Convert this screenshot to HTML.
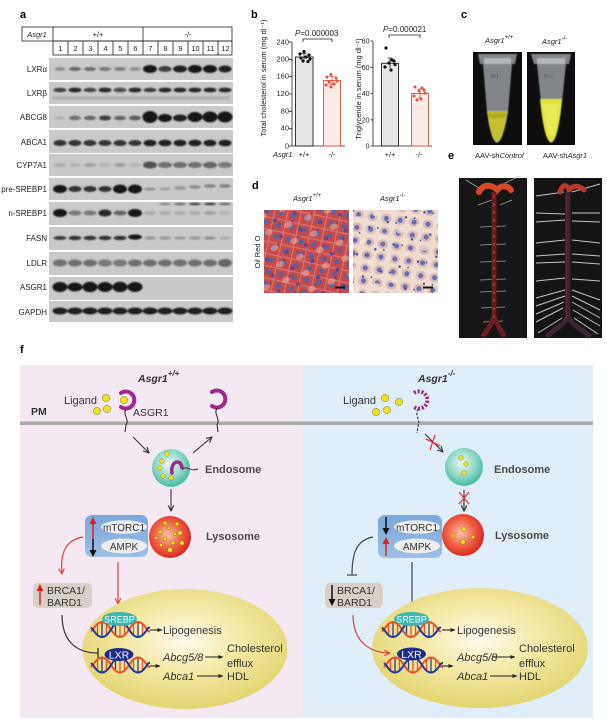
<!DOCTYPE html>
<html><head><meta charset="utf-8"><style>html,body{margin:0;padding:0;background:#fff;}svg{display:block;}</style></head><body>
<svg xmlns="http://www.w3.org/2000/svg" width="607" height="725" viewBox="0 0 607 725" font-family="'Liberation Sans', Arial, sans-serif">
<defs>
 <filter id="bl" x="-50%" y="-150%" width="200%" height="400%"><feGaussianBlur stdDeviation="0.9"/></filter>
 <filter id="bl2" x="-20%" y="-20%" width="140%" height="140%"><feGaussianBlur stdDeviation="0.6"/></filter>
 <radialGradient id="endo" cx="0.45" cy="0.4" r="0.6"><stop offset="0" stop-color="#eef9f4"/><stop offset="0.6" stop-color="#8fd8c6"/><stop offset="1" stop-color="#45b9a2"/></radialGradient>
 <radialGradient id="lyso" cx="0.45" cy="0.45" r="0.6"><stop offset="0" stop-color="#f9c4a8"/><stop offset="0.5" stop-color="#f06848"/><stop offset="1" stop-color="#d81c1c"/></radialGradient>
 <radialGradient id="nuc" cx="0.5" cy="0.42" r="0.6"><stop offset="0" stop-color="#fefcf0"/><stop offset="0.45" stop-color="#f4eaa8"/><stop offset="1" stop-color="#e2d36c"/></radialGradient>
 <linearGradient id="mbox" x1="0" y1="0" x2="0" y2="1"><stop offset="0" stop-color="#7aa6da"/><stop offset="1" stop-color="#9cc0e6"/></linearGradient>
 <marker id="ak" viewBox="0 0 10 10" refX="9" refY="5" markerWidth="7" markerHeight="7" markerUnits="userSpaceOnUse" orient="auto"><path d="M1,1 L9,5 L1,9" fill="none" stroke="#333" stroke-width="1.6"/></marker>
 <marker id="ar" viewBox="0 0 10 10" refX="9" refY="5" markerWidth="7" markerHeight="7" markerUnits="userSpaceOnUse" orient="auto"><path d="M1,1 L9,5 L1,9" fill="none" stroke="#e0403c" stroke-width="1.6"/></marker>
 <marker id="af" viewBox="0 0 10 10" refX="9" refY="5" markerWidth="5" markerHeight="5" markerUnits="userSpaceOnUse" orient="auto"><path d="M0,1 L10,5 L0,9z" fill="#222"/></marker>
 <g id="dna">
  <g stroke-width="1.3">
   <line x1="4.5" y1="-5.3" x2="4.5" y2="5.3" stroke="#e85030"/><line x1="9" y1="-7.5" x2="9" y2="7.5" stroke="#2a3a90"/><line x1="13.5" y1="-5.3" x2="13.5" y2="5.3" stroke="#e85030"/>
   <line x1="22.5" y1="-5.3" x2="22.5" y2="5.3" stroke="#2a3a90"/><line x1="27" y1="-7.5" x2="27" y2="7.5" stroke="#e85030"/><line x1="31.5" y1="-5.3" x2="31.5" y2="5.3" stroke="#e85030"/>
   <line x1="40.5" y1="-5.3" x2="40.5" y2="5.3" stroke="#e85030"/><line x1="45" y1="-7.5" x2="45" y2="7.5" stroke="#2a3a90"/><line x1="49.5" y1="-5.3" x2="49.5" y2="5.3" stroke="#e85030"/>
  </g>
  <path d="M-2,2 Q0,0 0,0 Q9,-15 18,0 T36,0 T54,0 Q55,2 57,2" fill="none" stroke="#e8502c" stroke-width="2"/>
  <path d="M-2,-2 Q0,0 0,0 Q9,15 18,0 T36,0 T54,0 Q55,-2 57,-2" fill="none" stroke="#243a94" stroke-width="2"/>
 </g>
 <pattern id="orA" width="13" height="12" patternUnits="userSpaceOnUse" patternTransform="rotate(12)">
  <rect width="13" height="12" fill="#c64a4a"/>
  <path d="M0,0.6H13M0.6,0V12" stroke="#e8a8a0" stroke-width="1.2" opacity=".45"/>
  <circle cx="7" cy="6" r="2.5" fill="#5562aa"/>
 </pattern>
 <pattern id="orA2" width="21" height="17" patternUnits="userSpaceOnUse" patternTransform="rotate(-20)">
  <ellipse cx="5" cy="4" rx="4" ry="3" fill="#f0c8c0" opacity=".45"/>
  <circle cx="15" cy="12" r="2" fill="#3d4a98" opacity=".8"/>
  <circle cx="10" cy="1.5" r="1" fill="#3d4a98"/>
 </pattern>
 <pattern id="orB" width="14" height="13" patternUnits="userSpaceOnUse" patternTransform="rotate(8)">
  <rect width="14" height="13" fill="#eedccf"/>
  <ellipse cx="7" cy="6.5" rx="5.3" ry="4.8" fill="#dcb4b4" opacity=".85"/>
  <circle cx="7" cy="6.5" r="2.5" fill="#6070b2"/>
 </pattern>
 <pattern id="orB2" width="19" height="23" patternUnits="userSpaceOnUse" patternTransform="rotate(-15)">
  <ellipse cx="4" cy="5" rx="3.5" ry="2.5" fill="#f4e6da" opacity=".7"/>
  <circle cx="13" cy="16" r="1.2" fill="#3d4a98"/>
  <circle cx="2" cy="19" r="0.9" fill="#3d4a98"/>
 </pattern>
</defs>

<!-- ============ PANEL A ============ -->
<text x="20" y="18" font-size="11" font-weight="bold">a</text>
<g fill="none" stroke="#222" stroke-width="0.8">
 <rect x="22" y="27" width="210" height="14"/>
 <rect x="53" y="41" width="179" height="14"/>
 <path d="M53,27V41 M143,27V55 M68,41V55 M83,41V55 M98,41V55 M113,41V55 M128,41V55 M158,41V55 M173,41V55 M188,41V55 M203,41V55 M218,41V55"/>
</g>
<g font-size="7.5" fill="#222" text-anchor="middle">
 <text x="37" y="37" font-style="italic">Asgr1</text>
 <text x="98" y="37">+/+</text>
 <text x="188" y="37">-/-</text>
 <text x="60.5" y="51">1</text><text x="75.5" y="51">2</text><text x="90.5" y="51">3</text><text x="105.5" y="51">4</text><text x="120.5" y="51">5</text><text x="135.5" y="51">6</text>
 <text x="150.5" y="51">7</text><text x="165.5" y="51">8</text><text x="180.5" y="51">9</text><text x="195.5" y="51">10</text><text x="210.5" y="51">11</text><text x="225.5" y="51">12</text>
</g>
<g fill="#c9c9c9">
 <rect x="49" y="58" width="184" height="22"/>
 <rect x="49" y="82" width="184" height="22"/>
 <rect x="49" y="106" width="184" height="22"/>
 <rect x="49" y="130" width="184" height="23"/>
 <rect x="49" y="154" width="184" height="22"/>
 <rect x="49" y="178" width="184" height="22"/>
 <rect x="49" y="202" width="184" height="23"/>
 <rect x="49" y="227" width="184" height="23"/>
 <rect x="49" y="252" width="184" height="23"/>
 <rect x="49" y="277" width="184" height="23"/>
 <rect x="49" y="301" width="184" height="21"/>
</g>
<g font-size="8" fill="#222" text-anchor="end">
 <text x="47" y="72">LXRα</text>
 <text x="47" y="96">LXRβ</text>
 <text x="47" y="120">ABCG8</text>
 <text x="47" y="145">ABCA1</text>
 <text x="47" y="168">CYP7A1</text>
 <text x="47" y="192">pre-SREBP1</text>
 <text x="47" y="216">n-SREBP1</text>
 <text x="47" y="241">FASN</text>
 <text x="47" y="266">LDLR</text>
 <text x="47" y="290">ASGR1</text>
 <text x="47" y="315">GAPDH</text>
</g>
<g fill="#151515" filter="url(#bl)">
 <ellipse cx="60" cy="69" rx="5.5" ry="1.8" opacity=".35"/><ellipse cx="75" cy="69" rx="6" ry="2" opacity=".55"/><ellipse cx="90" cy="69" rx="6" ry="2" opacity=".5"/><ellipse cx="105" cy="69" rx="6" ry="2" opacity=".45"/><ellipse cx="120" cy="69" rx="6" ry="2" opacity=".4"/><ellipse cx="135" cy="69" rx="5.5" ry="1.8" opacity=".35"/>
 <ellipse cx="150" cy="69" rx="7" ry="4" opacity="1"/><ellipse cx="165" cy="69" rx="6.5" ry="3" opacity=".8"/><ellipse cx="180" cy="69" rx="7" ry="3.5" opacity=".95"/><ellipse cx="195" cy="69" rx="7" ry="4" opacity="1"/><ellipse cx="210" cy="69" rx="7" ry="4" opacity="1"/><ellipse cx="225" cy="69" rx="6.5" ry="3.5" opacity=".95"/>
 <ellipse cx="60" cy="90" rx="6.5" ry="2.2" opacity=".75"/><ellipse cx="75" cy="90" rx="6.5" ry="2.4" opacity=".9"/><ellipse cx="90" cy="90" rx="6.5" ry="2.2" opacity=".7"/><ellipse cx="105" cy="90" rx="6.5" ry="2.4" opacity=".9"/><ellipse cx="120" cy="90" rx="6.5" ry="2.2" opacity=".7"/><ellipse cx="135" cy="90" rx="6.5" ry="2.4" opacity=".9"/>
 <ellipse cx="150" cy="90" rx="6.5" ry="2.2" opacity=".8"/><ellipse cx="165" cy="90" rx="6.5" ry="2.4" opacity=".9"/><ellipse cx="180" cy="90" rx="6.5" ry="2.4" opacity=".9"/><ellipse cx="195" cy="90" rx="6.5" ry="2.4" opacity=".9"/><ellipse cx="210" cy="90" rx="6.5" ry="2.4" opacity=".9"/><ellipse cx="225" cy="90" rx="6.5" ry="2.4" opacity=".9"/>
 <rect x="52" y="96.5" width="178" height="3" opacity=".12"/>
 <ellipse cx="60" cy="118" rx="5" ry="1.5" opacity=".15"/><ellipse cx="75" cy="118" rx="6" ry="2.2" opacity=".5"/><ellipse cx="90" cy="118" rx="6" ry="2.2" opacity=".55"/><ellipse cx="105" cy="118" rx="6" ry="2.5" opacity=".75"/><ellipse cx="120" cy="118" rx="6" ry="2.2" opacity=".55"/><ellipse cx="135" cy="118" rx="6" ry="2.4" opacity=".6"/>
 <ellipse cx="150" cy="117" rx="7.5" ry="6" opacity="1"/><ellipse cx="165" cy="118" rx="7" ry="4" opacity="1"/><ellipse cx="180" cy="118" rx="7" ry="3.5" opacity=".95"/><ellipse cx="195" cy="117" rx="7.5" ry="5" opacity="1"/><ellipse cx="210" cy="117" rx="7.5" ry="5.5" opacity="1"/><ellipse cx="225" cy="117" rx="7.5" ry="5.5" opacity="1"/>
 <ellipse cx="60" cy="143" rx="6.5" ry="3" opacity=".85"/><ellipse cx="75" cy="143" rx="6.5" ry="3" opacity=".85"/><ellipse cx="90" cy="143" rx="6.5" ry="3" opacity=".85"/><ellipse cx="105" cy="143" rx="6.5" ry="3" opacity=".85"/><ellipse cx="120" cy="143" rx="6.5" ry="3" opacity=".85"/><ellipse cx="135" cy="143" rx="6.5" ry="3" opacity=".85"/>
 <ellipse cx="150" cy="143" rx="6.5" ry="3.3" opacity=".95"/><ellipse cx="165" cy="143" rx="6.5" ry="3.3" opacity=".95"/><ellipse cx="180" cy="143" rx="6.5" ry="3.3" opacity=".95"/><ellipse cx="195" cy="143" rx="6.5" ry="3.3" opacity=".95"/><ellipse cx="210" cy="143" rx="6.5" ry="3.3" opacity=".95"/><ellipse cx="225" cy="143" rx="6.5" ry="3.3" opacity=".95"/>
 <ellipse cx="60" cy="165" rx="6" ry="2" opacity=".15"/><ellipse cx="75" cy="165" rx="6" ry="2" opacity=".1"/><ellipse cx="90" cy="165" rx="6" ry="2" opacity=".2"/><ellipse cx="105" cy="165" rx="6" ry="2" opacity=".1"/><ellipse cx="120" cy="165" rx="6" ry="2" opacity=".2"/><ellipse cx="135" cy="165" rx="6" ry="2" opacity=".1"/>
 <ellipse cx="150" cy="165" rx="7" ry="3.5" opacity=".65"/><ellipse cx="165" cy="165" rx="7" ry="3" opacity=".5"/><ellipse cx="180" cy="165" rx="7" ry="3" opacity=".5"/><ellipse cx="195" cy="165" rx="7" ry="3" opacity=".5"/><ellipse cx="210" cy="165" rx="7" ry="3.2" opacity=".55"/><ellipse cx="225" cy="165" rx="7" ry="3" opacity=".45"/>
 <ellipse cx="60" cy="189" rx="7" ry="4" opacity="1"/><ellipse cx="75" cy="189" rx="6.5" ry="3" opacity=".85"/><ellipse cx="90" cy="189" rx="6.5" ry="3" opacity=".85"/><ellipse cx="105" cy="189" rx="6.5" ry="3" opacity=".85"/><ellipse cx="120" cy="189" rx="7" ry="4.5" opacity="1"/><ellipse cx="135" cy="189" rx="7" ry="4.5" opacity="1"/>
 <ellipse cx="150" cy="189" rx="6" ry="1.6" opacity=".25"/><ellipse cx="165" cy="189" rx="6" ry="1.6" opacity=".2"/><ellipse cx="180" cy="188" rx="6" ry="1.8" opacity=".3"/><ellipse cx="195" cy="187" rx="6" ry="1.8" opacity=".35"/><ellipse cx="210" cy="186" rx="6" ry="1.8" opacity=".4"/><ellipse cx="225" cy="186" rx="6" ry="1.8" opacity=".4"/>
 <ellipse cx="60" cy="213" rx="7" ry="4" opacity="1"/><ellipse cx="75" cy="213" rx="6.5" ry="2.5" opacity=".45"/><ellipse cx="90" cy="213" rx="6.5" ry="2.5" opacity=".45"/><ellipse cx="105" cy="213" rx="6.5" ry="3.5" opacity=".9"/><ellipse cx="120" cy="213" rx="6.5" ry="2.5" opacity=".55"/><ellipse cx="135" cy="213" rx="7" ry="4" opacity="1"/>
 <ellipse cx="150" cy="213" rx="6" ry="2" opacity=".15"/><ellipse cx="165" cy="213" rx="6" ry="2" opacity=".15"/><ellipse cx="180" cy="213" rx="6" ry="2" opacity=".15"/><ellipse cx="195" cy="213" rx="6" ry="2" opacity=".15"/><ellipse cx="210" cy="213" rx="6" ry="2" opacity=".2"/><ellipse cx="225" cy="213" rx="6" ry="2" opacity=".1"/>
 <ellipse cx="165" cy="204" rx="6" ry="1.2" opacity=".35"/><ellipse cx="180" cy="204" rx="6" ry="1.2" opacity=".5"/><ellipse cx="195" cy="204" rx="6" ry="1.3" opacity=".7"/><ellipse cx="210" cy="204" rx="6" ry="1.3" opacity=".75"/><ellipse cx="225" cy="204" rx="6" ry="1.2" opacity=".5"/>
 <ellipse cx="60" cy="238" rx="6.5" ry="2" opacity=".8"/><ellipse cx="75" cy="238" rx="6.5" ry="2.2" opacity=".85"/><ellipse cx="90" cy="238" rx="6.5" ry="2.2" opacity=".85"/><ellipse cx="105" cy="238" rx="6.5" ry="2.2" opacity=".85"/><ellipse cx="120" cy="238" rx="6.5" ry="2.2" opacity=".85"/><ellipse cx="135" cy="237" rx="7" ry="2.6" opacity="1"/>
 <ellipse cx="150" cy="238" rx="6" ry="1.5" opacity=".3"/><ellipse cx="165" cy="238" rx="6" ry="1.5" opacity=".3"/><ellipse cx="180" cy="238" rx="6" ry="1.5" opacity=".25"/><ellipse cx="195" cy="238" rx="6" ry="1.5" opacity=".3"/><ellipse cx="210" cy="238" rx="6" ry="1.5" opacity=".35"/><ellipse cx="225" cy="238" rx="6" ry="1.5" opacity=".15"/>
 <ellipse cx="60" cy="263" rx="7" ry="3.5" opacity=".5"/><ellipse cx="75" cy="263" rx="7" ry="3.5" opacity=".5"/><ellipse cx="90" cy="263" rx="7" ry="3.5" opacity=".5"/><ellipse cx="105" cy="263" rx="7" ry="3.5" opacity=".45"/><ellipse cx="120" cy="263" rx="7" ry="3.5" opacity=".45"/><ellipse cx="135" cy="263" rx="7" ry="3.5" opacity=".5"/>
 <ellipse cx="150" cy="263" rx="7" ry="3.5" opacity=".5"/><ellipse cx="165" cy="263" rx="7" ry="3.5" opacity=".5"/><ellipse cx="180" cy="263" rx="7" ry="3.5" opacity=".5"/><ellipse cx="195" cy="263" rx="7" ry="3.5" opacity=".5"/><ellipse cx="210" cy="263" rx="7" ry="3.5" opacity=".5"/><ellipse cx="225" cy="263" rx="7" ry="4" opacity=".55"/>
 <ellipse cx="60" cy="287" rx="7.5" ry="5" opacity="1"/><ellipse cx="75" cy="287" rx="7.5" ry="4.5" opacity="1"/><ellipse cx="90" cy="287" rx="7.5" ry="5.2" opacity="1"/><ellipse cx="105" cy="287" rx="7.5" ry="5" opacity="1"/><ellipse cx="120" cy="287" rx="7.5" ry="5.2" opacity="1"/><ellipse cx="135" cy="287" rx="7.5" ry="5" opacity="1"/>
 <ellipse cx="60" cy="311" rx="7.5" ry="3.5" opacity=".95"/><ellipse cx="75" cy="311" rx="7.5" ry="3.5" opacity=".95"/><ellipse cx="90" cy="311" rx="7.5" ry="3.5" opacity=".95"/><ellipse cx="105" cy="311" rx="7.5" ry="3.5" opacity=".95"/><ellipse cx="120" cy="311" rx="7.5" ry="3.5" opacity=".95"/><ellipse cx="135" cy="311" rx="7.5" ry="3.5" opacity=".95"/>
 <ellipse cx="150" cy="311" rx="7.5" ry="3.5" opacity=".95"/><ellipse cx="165" cy="311" rx="7.5" ry="3.5" opacity=".95"/><ellipse cx="180" cy="311" rx="7.5" ry="3.5" opacity=".95"/><ellipse cx="195" cy="311" rx="7.5" ry="3.5" opacity=".95"/><ellipse cx="210" cy="311" rx="7.5" ry="3.5" opacity=".95"/><ellipse cx="225" cy="311" rx="7.5" ry="3.5" opacity=".95"/>
</g>

<!-- ============ PANEL B ============ -->
<text x="251" y="18" font-size="11" font-weight="bold">b</text>
<g font-size="7.5" fill="#222">
 <text transform="translate(266,78) rotate(-90)" text-anchor="middle">Total cholesterol in serum (mg dl⁻¹)</text>
 <text transform="translate(361,89) rotate(-90)" text-anchor="middle">Triglyceride in serum (mg dl⁻¹)</text>
 <g text-anchor="end">
  <text x="289" y="44.5">240</text><text x="289" y="61.5">200</text><text x="289" y="78.5">160</text><text x="289" y="96">120</text><text x="289" y="113.5">80</text><text x="289" y="130.5">40</text><text x="289" y="148.5">0</text>
 </g>
 <g text-anchor="end" font-size="7">
  <text x="369.5" y="43.5">80</text><text x="369.5" y="69.8">60</text><text x="369.5" y="96">40</text><text x="369.5" y="122.3">20</text><text x="369.5" y="148.5">0</text>
 </g>
 <text x="273" y="157" font-style="italic">Asgr1</text>
 <g text-anchor="middle">
  <text x="304" y="157">+/+</text><text x="332" y="157">-/-</text>
  <text x="390" y="157">+/+</text><text x="419" y="157">-/-</text>
 </g>
 <text x="295" y="36" font-size="8"><tspan font-style="italic">P</tspan>=0.000003</text>
 <text x="383" y="32" font-size="8"><tspan font-style="italic">P</tspan>=0.000021</text>
</g>
<g stroke="#222" stroke-width="0.8" fill="none">
 <path d="M292,42V146H345 M289,42H292 M289,59.3H292 M289,76.7H292 M289,94H292 M289,111.3H292 M289,128.7H292 M289,146H292"/>
 <path d="M373,41V146H432 M370.5,41H373 M370.5,67.3H373 M370.5,93.5H373 M370.5,119.8H373 M370.5,146H373"/>
 <path d="M303,42V39H332V42"/>
 <path d="M389,38V35H420V38"/>
</g>
<rect x="295.5" y="57" width="17.5" height="89" fill="#e6e6e6" stroke="#222" stroke-width="0.9"/>
<rect x="323.5" y="80.5" width="17" height="65.5" fill="#fbeae6" stroke="#e4503a" stroke-width="0.9"/>
<rect x="381.5" y="63.3" width="17" height="82.7" fill="#e6e6e6" stroke="#222" stroke-width="0.9"/>
<rect x="411.5" y="93.5" width="17" height="52.5" fill="#fbeae6" stroke="#e4503a" stroke-width="0.9"/>
<g stroke-width="0.8" fill="none">
 <path d="M304,53.5V60.5 M301.5,53.5H306.5" stroke="#222"/>
 <path d="M332,76.5V84.5 M329.5,76.5H334.5 M329.5,84.5H334.5" stroke="#e4503a"/>
 <path d="M390,58V68 M387.5,58H392.5" stroke="#222"/>
 <path d="M420,89V98 M417.5,89H422.5 M417.5,98H422.5" stroke="#e4503a"/>
</g>
<g fill="#111">
 <circle cx="300" cy="54" r="1.6"/><circle cx="304" cy="51.5" r="1.6"/><circle cx="309" cy="55" r="1.6"/><circle cx="301" cy="58" r="1.6"/><circle cx="306" cy="57" r="1.6"/><circle cx="310" cy="59" r="1.6"/><circle cx="303" cy="61" r="1.6"/><circle cx="308" cy="61.5" r="1.6"/>
 <circle cx="386" cy="48" r="1.6"/><circle cx="392" cy="60" r="1.6"/><circle cx="389" cy="63" r="1.6"/><circle cx="395" cy="64.5" r="1.6"/><circle cx="385" cy="67" r="1.6"/><circle cx="391" cy="70" r="1.6"/><circle cx="394" cy="61" r="1.6"/>
</g>
<g fill="#e4503a">
 <circle cx="327" cy="77" r="1.5"/><circle cx="331" cy="74.5" r="1.5"/><circle cx="336" cy="78" r="1.5"/><circle cx="329" cy="82" r="1.5"/><circle cx="334" cy="84" r="1.5"/><circle cx="331" cy="87" r="1.5"/><circle cx="337" cy="81" r="1.5"/><circle cx="326" cy="85" r="1.5"/>
 <circle cx="415" cy="87" r="1.5"/><circle cx="422" cy="88" r="1.5"/><circle cx="419" cy="91" r="1.5"/><circle cx="425" cy="93" r="1.5"/><circle cx="414" cy="96" r="1.5"/><circle cx="421" cy="99" r="1.5"/><circle cx="417" cy="100" r="1.5"/><circle cx="424" cy="90" r="1.5"/>
</g>

<!-- ============ PANEL C ============ -->
<text x="461" y="18" font-size="11" font-weight="bold">c</text>
<g font-size="7.5" fill="#222">
 <text x="485" y="43" font-style="italic">Asgr1<tspan dy="-4" font-size="6" font-style="normal">+/+</tspan></text>
 <text x="542" y="44" font-style="italic">Asgr1<tspan dy="-4" font-size="6" font-style="normal">-/-</tspan></text>
</g>
<rect x="473" y="52" width="49" height="93" fill="#0e0e0e"/>
<rect x="527" y="52" width="48" height="93" fill="#0e0e0e"/>
<g filter="url(#bl2)">
 <path d="M478,54 L517,54 L515,64 L512,64 L508,112 Q503,142 497,143 Q491,142 487,112 L483,64 L480,64 Z" fill="#a9adb2" opacity=".75"/>
 <path d="M484,58 L511,58 L511,64 L484,64Z" fill="#d6d9dc" opacity=".6"/>
 <path d="M487,111 L508,111 Q503,141 497,142 Q491,141 487,111Z" fill="#c4c030"/>
 <path d="M488,113 L507,113 L506,118 L489,118Z" fill="#a8a420" opacity=".7"/>
 <path d="M531,54 L571,54 L569,64 L566,64 L562,102 Q558,142 551,143 Q545,142 541,102 L537,64 L534,64 Z" fill="#a9adb2" opacity=".75"/>
 <path d="M537,58 L565,58 L565,64 L537,64Z" fill="#d6d9dc" opacity=".6"/>
 <path d="M540,99 L562,99 Q558,141 551,142 Q544,141 540,99Z" fill="#e2e43a"/>
 <path d="M543,104 L559,104 Q556,136 551,137 Q546,136 543,104Z" fill="#eef06a" opacity=".6"/>
</g>
<g font-size="6" fill="#444" font-style="italic" opacity=".7"><text x="490" y="78">WT</text><text x="544" y="78">KO</text></g>

<!-- ============ PANEL D ============ -->
<text x="252" y="189" font-size="11" font-weight="bold">d</text>
<g font-size="7.5" fill="#222">
 <text x="293" y="201" font-style="italic">Asgr1<tspan dy="-4" font-size="6" font-style="normal">+/+</tspan></text>
 <text x="380" y="201" font-style="italic">Asgr1<tspan dy="-4" font-size="6" font-style="normal">-/-</tspan></text>
 <text transform="translate(260,252) rotate(-90)" text-anchor="middle">Oil Red O</text>
</g>
<rect x="264" y="210" width="85" height="83" fill="url(#orA)"/>
<rect x="264" y="210" width="85" height="83" fill="url(#orA2)"/>
<rect x="353" y="210" width="85" height="83" fill="url(#orB)"/>
<rect x="353" y="210" width="85" height="83" fill="url(#orB2)"/>
<path d="M335,287.5H345 M423,287.5H433" stroke="#111" stroke-width="2"/>

<!-- ============ PANEL E ============ -->
<text x="448" y="159" font-size="11" font-weight="bold">e</text>
<g font-size="7.5" fill="#222">
 <text x="475" y="158">AAV-sh<tspan font-style="italic">Control</tspan></text>
 <text x="543" y="158">AAV-sh<tspan font-style="italic">Asgr1</tspan></text>
</g>
<rect x="459" y="178" width="68" height="160" fill="#161616"/>
<rect x="534" y="178" width="68" height="160" fill="#141414"/>
<g stroke="#bdbdbd" stroke-width="0.8" opacity=".85">
 <path d="M466,180 L482,190 M505,183 L520,176 M478,205 L492,200 M500,205 L512,200 M480,227 L506,226 M480,245 L506,244 M480,262 L506,261 M480,280 L506,279 M480,292 L506,291 M481,308 L505,307 M483,322 L503,321"/>
</g>
<path d="M479,192 C484,182 494,186 497,190 C502,184 508,186 511,190" stroke="#d8482a" stroke-width="6" fill="none" stroke-linecap="round"/>
<path d="M494,192 L494,318 M494,316 C492,326 486,330 483,337 M494,316 C497,326 502,330 504,337" stroke="#6a1c20" stroke-width="5" fill="none"/>
<path d="M494,195 L494,318" stroke="#c03a28" stroke-width="1.5" stroke-dasharray="3 5" fill="none"/>
<g stroke="#d8d8d8" stroke-width="1" opacity=".9">
 <path d="M536,196 L564,192 M536,213 L565,214 M536,222 L565,220 M536,243 L565,240 M536,256 L565,254 M536,263 L565,262 M536,281 L565,278 M536,298 L565,290 M536,306 L565,296 M536,314 L564,302 M536,322 L563,308 M538,333 L562,318"/>
 <path d="M572,192 L600,184 M572,213 L600,213 M572,221 L600,222 M572,240 L600,243 M572,254 L600,256 M572,262 L600,264 M572,279 L600,281 M572,290 L600,300 M572,296 L600,310 M572,302 L600,318 M573,310 L600,326 M574,318 L598,334"/>
</g>
<path d="M560,192 C563,182 568,186 569,190 C574,184 580,186 584,190" stroke="#b83a2a" stroke-width="5" fill="none" stroke-linecap="round"/>
<path d="M568,192 L568,318 M568,316 C564,326 552,330 547,337 M568,316 C572,326 584,330 590,337" stroke="#3c2432" stroke-width="5" fill="none"/>
<path d="M566,195 L566,318" stroke="#8a2a2a" stroke-width="1" fill="none"/>

<!-- ============ PANEL F ============ -->
<text x="20" y="353" font-size="11" font-weight="bold">f</text>
<rect x="20" y="365" width="283" height="353" fill="#f4e9f3"/>
<rect x="303" y="365" width="290" height="353" fill="#dfeef8"/>
<rect x="20" y="421.5" width="573" height="3.5" fill="#aaaaaa"/>

<g font-size="11" fill="#333">
 <text x="31" y="415" font-weight="bold" font-size="10.5">PM</text>
 <text x="138" y="382" font-weight="bold" font-style="italic" font-size="10.5">Asgr1<tspan dy="-6" font-size="8">+/+</tspan></text>
 <text x="418" y="382" font-weight="bold" font-style="italic" font-size="10.5">Asgr1<tspan dy="-6" font-size="8">-/-</tspan></text>
 <text x="64" y="404">Ligand</text>
 <text x="133" y="416" font-size="10.5">ASGR1</text>
 <text x="343" y="404">Ligand</text>
 <g font-weight="bold" fill="#4a4a4a">
  <text x="205" y="473">Endosome</text>
  <text x="206" y="540">Lysosome</text>
  <text x="494" y="473">Endosome</text>
  <text x="495" y="539">Lysosome</text>
  <text x="181" y="703" text-anchor="middle">Nucleus</text>
  <text x="474" y="703" text-anchor="middle">Nucleus</text>
 </g>
</g>

<g fill="#f3e21a" stroke="#8a8a40" stroke-width="0.6">
 <circle cx="106" cy="398" r="3.6"/><circle cx="97" cy="411" r="3.6"/><circle cx="107" cy="409" r="3.6"/><circle cx="124" cy="400" r="3.6"/>
 <circle cx="385" cy="398" r="3.6"/><circle cx="399" cy="402" r="3.6"/><circle cx="376" cy="412" r="3.6"/><circle cx="387" cy="410" r="3.6"/>
</g>
<g fill="none" stroke="#9c2a8c" stroke-width="4" stroke-linecap="round">
 <path d="M121,393 A8.5,8.5 0 1 1 121,407"/>
 <path d="M212,392 A8.5,8.5 0 1 1 212,406"/>
 <path d="M414,393 A8.5,8.5 0 1 1 414,407" stroke-dasharray="2.2 1.6" stroke-linecap="butt"/>
</g>
<g fill="none" stroke="#222" stroke-width="1">
 <path d="M126,409 C122,415 130,419 126,425 L125,432"/>
 <path d="M217,408 C213,414 221,419 217,425 L218,432"/>
 <path d="M418,409 C414,415 421,420 418,426 L417,433" stroke-dasharray="2.5 1.5"/>
</g>

<g fill="none" stroke="#333" stroke-width="1.1">
 <path d="M133,437 L149,453" marker-end="url(#ak)"/>
 <path d="M193,453 L212,437" marker-end="url(#ak)"/>
 <path d="M171,489 L171,511" marker-end="url(#ak)"/>
 <path d="M425,434 L443,452" marker-end="url(#ak)"/>
 <path d="M464,490 L464,511" marker-end="url(#ak)"/>
</g>
<g stroke="#e8343c" stroke-width="1.3">
 <path d="M426,439 L440,446 M435,435 L430,450"/>
 <path d="M459,492 L469,504 M469,492 L459,504"/>
</g>

<circle cx="171" cy="468" r="19" fill="url(#endo)"/>
<circle cx="464" cy="467" r="19" fill="url(#endo)"/>
<g fill="#f3e21a" stroke="#8a8a40" stroke-width="0.5">
 <circle cx="167" cy="454" r="2.3"/><circle cx="162" cy="461" r="2.3"/><circle cx="160" cy="468" r="2.3"/><circle cx="163" cy="476" r="2.3"/><circle cx="171" cy="478" r="2.3"/>
 <circle cx="461" cy="458" r="2.3"/><circle cx="466" cy="464" r="2.3"/><circle cx="464" cy="473" r="2.3"/>
</g>
<path d="M172,473 C170,461 181,458 182,468" fill="none" stroke="#9c2a8c" stroke-width="3.5" stroke-linecap="round"/>
<path d="M183,469 C187,465 190,472 198,469" fill="none" stroke="#333" stroke-width="1"/>

<circle cx="170" cy="537" r="21" fill="url(#lyso)"/>
<circle cx="463" cy="535" r="21" fill="url(#lyso)"/>
<g fill="#f3e21a" stroke="#8a6a20" stroke-width="0.5">
 <circle cx="165" cy="523" r="2"/><circle cx="177" cy="524" r="2"/><circle cx="160" cy="532" r="2"/><circle cx="169" cy="528" r="1.6"/><circle cx="180" cy="533" r="2.2"/><circle cx="165" cy="539" r="2"/><circle cx="173" cy="543" r="2"/><circle cx="182" cy="543" r="2.2"/><circle cx="156" cy="538" r="1.6"/><circle cx="170" cy="550" r="2.4"/><circle cx="161" cy="545" r="1.6"/><circle cx="175" cy="534" r="1.6"/>
 <circle cx="464" cy="529" r="2.3"/><circle cx="463" cy="542" r="2.3"/><circle cx="453" cy="536" r="1.8"/><circle cx="473" cy="537" r="1.8"/>
</g>

<rect x="85" y="515" width="63" height="42" rx="7" fill="url(#mbox)"/>
<ellipse cx="124" cy="527" rx="23" ry="6.8" fill="#eeeeee"/>
<ellipse cx="124" cy="546" rx="23" ry="7.5" fill="#eeeeee"/>
<rect x="378" y="515" width="64" height="43" rx="7" fill="url(#mbox)"/>
<ellipse cx="417" cy="527" rx="23" ry="6.8" fill="#eeeeee"/>
<ellipse cx="417" cy="546" rx="23" ry="7.5" fill="#eeeeee"/>
<g font-size="10" fill="#333" text-anchor="middle">
 <text x="124" y="531">mTORC1</text><text x="124" y="550">AMPK</text>
 <text x="417" y="531">mTORC1</text><text x="417" y="550">AMPK</text>
</g>
<path d="M93,539 V523" stroke="#e02020" stroke-width="1.5"/><path d="M89.5,524 L93,517 L96.5,524Z" fill="#e02020"/>
<path d="M93,539 V551" stroke="#111" stroke-width="1.5"/><path d="M89.5,550 L93,557 L96.5,550Z" fill="#111"/>
<path d="M386,517 V529" stroke="#111" stroke-width="1.5"/><path d="M382.5,528 L386,535 L389.5,528Z" fill="#111"/>
<path d="M386,556 V543" stroke="#e02020" stroke-width="1.5"/><path d="M382.5,544 L386,537 L389.5,544Z" fill="#e02020"/>

<g fill="none" stroke="#e0403c" stroke-width="1.2">
 <path d="M83,537 C66,540 60,552 62,574" marker-end="url(#ar)"/>
 <path d="M118,562 L118,604" marker-end="url(#ar)"/>
</g>
<g fill="none" stroke="#444" stroke-width="1.2">
 <path d="M373,537 C357,540 352,552 352,575"/>
 <path d="M347,575 H357"/>
 <path d="M412,562 V605"/>
 <path d="M407,605 H417"/>
</g>

<rect x="33" y="583" width="59" height="25" rx="5" fill="#d8d0c6"/>
<rect x="325" y="583" width="58" height="25" rx="5" fill="#d8d0c6"/>
<g font-size="10.5" fill="#333">
 <text x="47" y="594">BRCA1/</text><text x="47" y="606">BARD1</text>
 <text x="337" y="594">BRCA1/</text><text x="337" y="606">BARD1</text>
</g>
<path d="M40,605 V590" stroke="#e02020" stroke-width="1.5"/><path d="M36.5,591 L40,584 L43.5,591Z" fill="#e02020"/>
<path d="M332,585 V600" stroke="#111" stroke-width="1.5"/><path d="M328.5,599 L332,606 L335.5,599Z" fill="#111"/>

<ellipse cx="185" cy="649" rx="102.5" ry="60" fill="url(#nuc)"/>
<ellipse cx="480" cy="648" rx="108" ry="60" fill="url(#nuc)"/>

<path d="M62,615 C62,640 75,653 98,653" fill="none" stroke="#333" stroke-width="1.2"/>
<path d="M98,648 V658" stroke="#333" stroke-width="1.3"/>
<path d="M353,615 C353,640 368,653 390,653" fill="none" stroke="#e0403c" stroke-width="1.2" marker-end="url(#ar)"/>

<use href="#dna" x="93" y="629.5"/>
<use href="#dna" x="93" y="665"/>
<use href="#dna" x="384" y="629.5"/>
<use href="#dna" x="386" y="665"/>
<ellipse cx="119.5" cy="619" rx="17.5" ry="7" fill="#3cb6ae"/>
<ellipse cx="119" cy="654.5" rx="14.5" ry="6.5" fill="#1d2d8c"/>
<ellipse cx="411.5" cy="619" rx="17.5" ry="7" fill="#3cb6ae"/>
<ellipse cx="411.5" cy="654" rx="14.5" ry="6.5" fill="#1d2d8c"/>
<g fill="#fff" text-anchor="middle">
 <text x="119.5" y="622.3" font-size="9">SREBP</text>
 <text x="119" y="658.3" font-size="10.5">LXR</text>
 <text x="411.5" y="622.3" font-size="9">SREBP</text>
 <text x="411.5" y="657.8" font-size="10.5">LXR</text>
</g>

<g fill="none" stroke="#222" stroke-width="1.1">
 <path d="M150,630 H162" marker-end="url(#af)"/>
 <path d="M150,666 H160" marker-end="url(#af)"/>
 <path d="M205,657 H223" marker-end="url(#af)"/>
 <path d="M197,676 H223" marker-end="url(#af)"/>
 <path d="M442,630 H455" marker-end="url(#af)"/>
 <path d="M442,666 H453" marker-end="url(#af)"/>
 <path d="M492,657 H515" marker-end="url(#af)"/>
 <path d="M490,676 H517" marker-end="url(#af)"/>
</g>
<g font-size="11" fill="#333">
 <text x="163" y="634">Lipogenesis</text>
 <text x="163" y="661" font-style="italic">Abcg5/8</text>
 <text x="163" y="680" font-style="italic">Abca1</text>
 <text x="227" y="652">Cholesterol</text>
 <text x="227" y="667">efflux</text>
 <text x="227" y="680">HDL</text>
 <text x="457" y="634">Lipogenesis</text>
 <text x="457" y="661" font-style="italic">Abcg5/8</text>
 <text x="457" y="680" font-style="italic">Abca1</text>
 <text x="519" y="652">Cholesterol</text>
 <text x="519" y="667">efflux</text>
 <text x="519" y="680">HDL</text>
</g>
</svg>
</body></html>
